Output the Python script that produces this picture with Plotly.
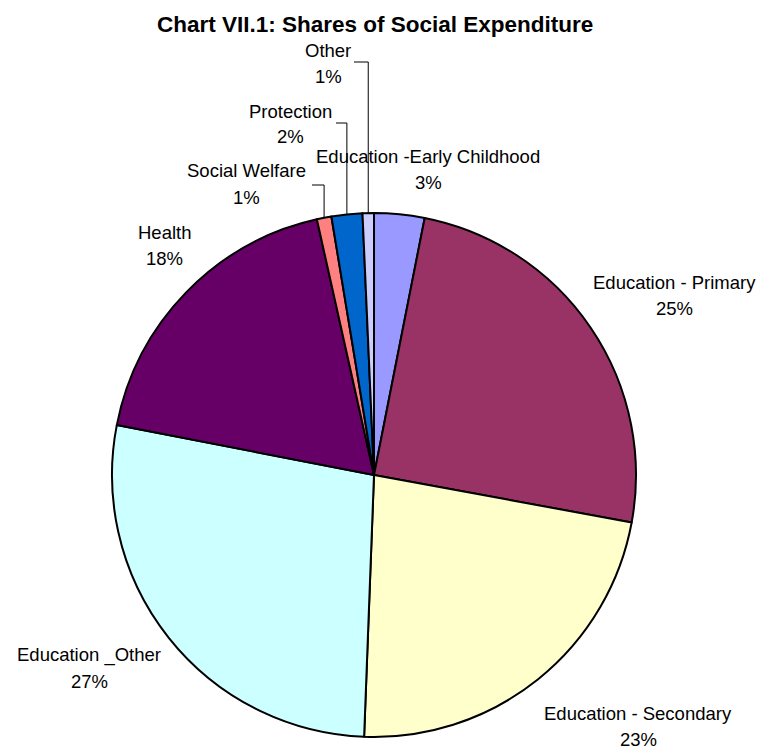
import math
import plotly.graph_objects as go

# ---- data ----
categories = [
    "Education -Early Childhood",
    "Education - Primary",
    "Education - Secondary",
    "Education _Other",
    "Health",
    "Social Welfare",
    "Protection",
    "Other",
]
shares = [3.1, 24.8, 22.7, 27.45, 18.45, 0.9, 1.9, 0.7]
colors = ["#9999FF", "#993366", "#FFFFCC", "#CCFFFF", "#660066", "#FF8080", "#0066CC", "#CCCCFF"]
title_text = "Chart VII.1: Shares of Social Expenditure"

# ---- layout constants (pixels) ----
W, H = 761, 749
CX, CY, R = 374, 475, 262
FONT = "Liberation Sans, Arial, sans-serif"


def px(x):
    return x / W


def py(y):
    return 1 - y / H


# label centre positions (name line) in pixels
label_pos = {
    "Education -Early Childhood": (428, 156),
    "Education - Primary": (674, 282),
    "Education - Secondary": (638, 713),
    "Education _Other": (89, 655),
    "Health": (164, 233),
    "Social Welfare": (246, 171),
    "Protection": (290, 111),
    "Other": (328, 50),
}
LINE_GAP = 26
# leader lines: (start x of horizontal, y of horizontal)
leaders = {
    "Other": (354, 62),
    "Protection": (336, 123),
    "Social Welfare": (312, 185),
}

fig = go.Figure()
fig.add_trace(
    go.Pie(
        labels=categories,
        values=shares,
        sort=False,
        direction="clockwise",
        rotation=0,
        textinfo="none",
        hoverinfo="label+percent",
        marker=dict(colors=colors, line=dict(color="#000000", width=2)),
        domain=dict(x=[px(CX - R), px(CX + R)], y=[py(CY + R), py(CY - R)]),
        showlegend=False,
    )
)

total = sum(shares)
annotations = [
    dict(
        text="<b>" + title_text + "</b>",
        x=px(375), y=py(25), xref="paper", yref="paper",
        xanchor="center", yanchor="middle", showarrow=False,
        font=dict(family=FONT, size=22.5, color="#000000"),
    )
]
shapes = []
cum = 0.0
for cat, v in zip(categories, shares):
    pct = f"{round(100 * v / total)}%"
    lx, ly = label_pos[cat]
    for i, t in enumerate([cat, pct]):
        annotations.append(
            dict(
                text=t, x=px(lx), y=py(ly + i * LINE_GAP), xref="paper", yref="paper",
                xanchor="center", yanchor="middle", showarrow=False,
                font=dict(family=FONT, size=18.5, color="#000000"),
            )
        )
    mid = (cum + v / 2) / total * 2 * math.pi
    cum += v
    if cat in leaders:
        sx, sy = leaders[cat]
        ax = CX + R * math.sin(mid)
        ay = CY - R * math.cos(mid)
        path = f"M {px(sx)},{py(sy)} L {px(ax)},{py(sy)} L {px(ax)},{py(ay)}"
        shapes.append(
            dict(type="path", path=path, xref="paper", yref="paper",
                 line=dict(color="#000000", width=1))
        )

fig.update_layout(
    width=W, height=H,
    margin=dict(l=0, r=0, t=0, b=0),
    paper_bgcolor="#FFFFFF",
    plot_bgcolor="#FFFFFF",
    annotations=annotations,
    shapes=shapes,
    showlegend=False,
)

fig.write_html("out.html")
